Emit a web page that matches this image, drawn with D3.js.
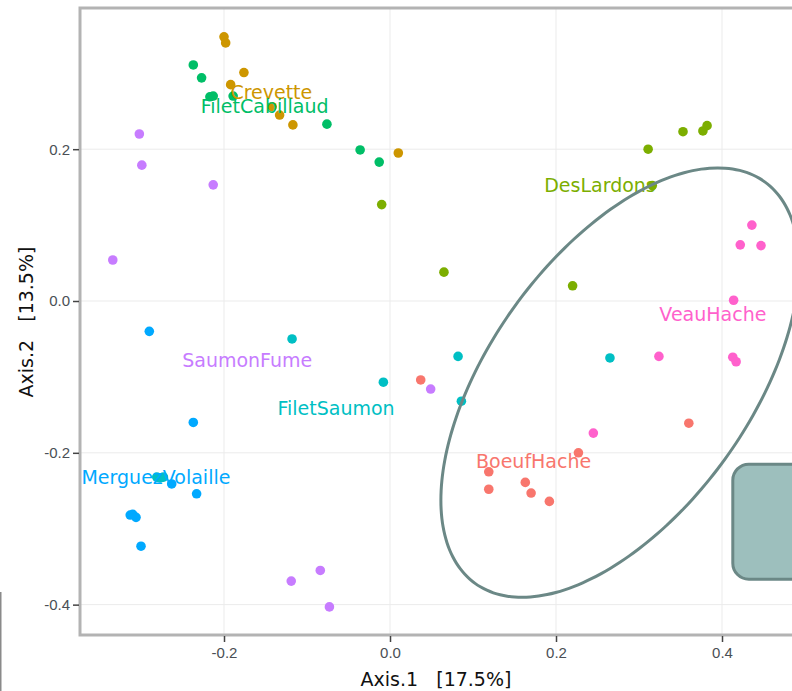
<!DOCTYPE html>
<meta charset="utf-8">
<style>
  body { margin: 0; background: #fff; }
  svg { display: block; font-family: "DejaVu Sans", Verdana, sans-serif; }
  .tick text { fill: #4a4f55; font-size: 15px; }
  .grid line { stroke: #ebebeb; stroke-width: 1; }
</style>
<body>
<svg id="chart" width="792" height="691"></svg>
<script src="https://cdn.jsdelivr.net/npm/d3@7"></script>
<script>
// groups and their colours
var groups = ["BoeufHache", "Crevette", "DesLardons", "FiletCabillaud", "FiletSaumon", "MerguezVolaille", "SaumonFume", "VeauHache"];
var colors = ["#F8766D", "#CD9600", "#7CAE00", "#00BE67", "#00BFC4", "#00A9FF", "#C77CFF", "#FF61CC"];

// Axis.1 / Axis.2 coordinates per group
var boeufHache = [[0.037, -0.104], [0.360, -0.161], [0.227, -0.200], [0.119, -0.225], [0.119, -0.248], [0.163, -0.239], [0.170, -0.253], [0.192, -0.264]];
var crevette = [[-0.200, 0.348], [-0.198, 0.340], [-0.176, 0.301], [-0.192, 0.285], [-0.142, 0.256], [-0.133, 0.245], [-0.117, 0.232], [0.010, 0.195]];
var desLardons = [[-0.010, 0.127], [0.311, 0.200], [0.353, 0.223], [0.377, 0.224], [0.382, 0.231], [0.316, 0.152], [0.065, 0.038], [0.220, 0.020]];
var filetCabillaud = [[-0.237, 0.311], [-0.227, 0.294], [-0.217, 0.269], [-0.213, 0.270], [-0.189, 0.270], [-0.076, 0.233], [-0.036, 0.199], [-0.013, 0.183]];
var filetSaumon = [[-0.118, -0.050], [-0.008, -0.107], [0.082, -0.073], [0.086, -0.132], [0.265, -0.075], [-0.281, -0.232], [-0.273, -0.232], [-0.277, -0.233]];
var merguezVolaille = [[-0.290, -0.040], [-0.237, -0.160], [-0.263, -0.241], [-0.233, -0.254], [-0.313, -0.282], [-0.310, -0.281], [-0.306, -0.285], [-0.300, -0.323]];
var saumonFume = [[-0.302, 0.220], [-0.299, 0.179], [-0.213, 0.153], [-0.334, 0.054], [0.049, -0.116], [-0.119, -0.369], [-0.084, -0.355], [-0.073, -0.403]];
var veauHache = [[0.436, 0.100], [0.422, 0.074], [0.447, 0.073], [0.414, 0.001], [0.324, -0.073], [0.413, -0.074], [0.417, -0.080], [0.245, -0.174]];
var series = [boeufHache, crevette, desLardons, filetCabillaud, filetSaumon, merguezVolaille, saumonFume, veauHache];

// label positions (group centre text)
var labelPos = [[0.173, -0.211], [-0.143, 0.2755], [0.253, 0.152], [-0.151, 0.256], [-0.065, -0.141], [-0.282, -0.232], [-0.172, -0.078], [0.389, -0.017]];

var xTicks = [-0.2, 0.0, 0.2, 0.4];
var yTicks = [-0.4, -0.2, 0.0, 0.2];

// ellipse: centre and two half-axis vectors (data units)
var ellipseCentre = [0.277, -0.1075];
var ellipseU = [0.2157, 0.1549];
var ellipseV = [0, -0.2367];

// rounded box on the right edge
var boxX = [0.413, 0.52];
var boxY = [-0.3665, -0.215];

var svg = d3.select("#chart"),
    margin = {top: 8, left: 80, bottom: 56},
    height = +svg.attr("height");

var x = d3.scaleLinear().domain([-0.3735, 0.5]).range([margin.left, margin.left + 0.8735 * 830]);
var y = d3.scaleLinear().domain([-0.44, 0.386]).range([height - margin.bottom, margin.top]);

var x0 = x.range()[0], x1 = x.range()[1], y0 = y.range()[0], y1 = y.range()[1];
var fmt = d => d === 0 ? "0.0" : d3.format(".1f")(d).replace("−", "-");

// grid
var grid = svg.append("g").attr("class", "grid");
grid.selectAll(".gx").data(xTicks).enter().append("line")
  .attr("x1", d => x(d)).attr("x2", d => x(d)).attr("y1", y1).attr("y2", y0);
grid.selectAll(".gy").data(yTicks).enter().append("line")
  .attr("x1", x0).attr("x2", x1).attr("y1", d => y(d)).attr("y2", d => y(d));

// frame
svg.append("rect")
  .attr("x", x0).attr("y", y1).attr("width", x1 - x0).attr("height", y0 - y1)
  .attr("fill", "none").attr("stroke", "#b3b3b3").attr("stroke-width", 3);

// axes
var xAxis = svg.append("g").attr("transform", "translate(0," + (y0 + 1) + ")")
  .call(d3.axisBottom(x).tickValues(xTicks).tickFormat(fmt).tickSize(6).tickPadding(5));
var yAxis = svg.append("g").attr("transform", "translate(" + (x0 - 1) + ",0)")
  .call(d3.axisLeft(y).tickValues(yTicks).tickFormat(fmt).tickSize(6).tickPadding(3));
[xAxis, yAxis].forEach(function (a) {
  a.select(".domain").remove();
  a.selectAll(".tick line").attr("stroke", "#444").attr("stroke-width", 1.5);
});

// axis titles
svg.append("text")
  .attr("x", 436).attr("y", 686)
  .attr("text-anchor", "middle").attr("font-size", 19).attr("fill", "#111")
  .attr("xml:space", "preserve")
  .text("Axis.1   [17.5%]");
svg.append("text")
  .attr("transform", "translate(33,322) rotate(-90)")
  .attr("text-anchor", "middle").attr("font-size", 19).attr("fill", "#111")
  .attr("xml:space", "preserve")
  .text("Axis.2   [13.5%]");

// points
var pts = svg.append("g");
series.forEach(function (s, i) {
  pts.selectAll(".p" + i).data(s).enter().append("circle")
    .attr("cx", d => x(d[0])).attr("cy", d => y(d[1]))
    .attr("r", 4.8).attr("fill", colors[i]);
});

// group labels
svg.append("g").selectAll("text").data(groups).enter().append("text")
  .attr("x", (d, i) => x(labelPos[i][0]))
  .attr("y", (d, i) => y(labelPos[i][1]))
  .attr("dy", "0.35em")
  .attr("text-anchor", "middle").attr("font-size", 19)
  .attr("fill", (d, i) => colors[i])
  .text(d => d);

// ellipse
var ts = d3.range(0, 360, 3).map(d => d * Math.PI / 180);
var ell = ts.map(function (t) {
  return [ellipseCentre[0] + ellipseU[0] * Math.cos(t) + ellipseV[0] * Math.sin(t),
          ellipseCentre[1] + ellipseU[1] * Math.cos(t) + ellipseV[1] * Math.sin(t)];
});
svg.append("path")
  .attr("d", d3.line().x(d => x(d[0])).y(d => y(d[1])).curve(d3.curveCardinalClosed)(ell))
  .attr("fill", "none").attr("stroke", "#6b8886").attr("stroke-width", 3);

// box
svg.append("rect")
  .attr("x", x(boxX[0])).attr("y", y(boxY[1]))
  .attr("width", x(boxX[1]) - x(boxX[0])).attr("height", y(boxY[0]) - y(boxY[1]))
  .attr("rx", 16).attr("ry", 16)
  .attr("fill", "#9dbfbd").attr("stroke", "#6b8886").attr("stroke-width", 3);

// thin edge line at bottom left
svg.append("line")
  .attr("x1", 0.5).attr("x2", 0.5).attr("y1", 592).attr("y2", 691)
  .attr("stroke", "#8a8a8a").attr("stroke-width", 2);
</script>
</body>
